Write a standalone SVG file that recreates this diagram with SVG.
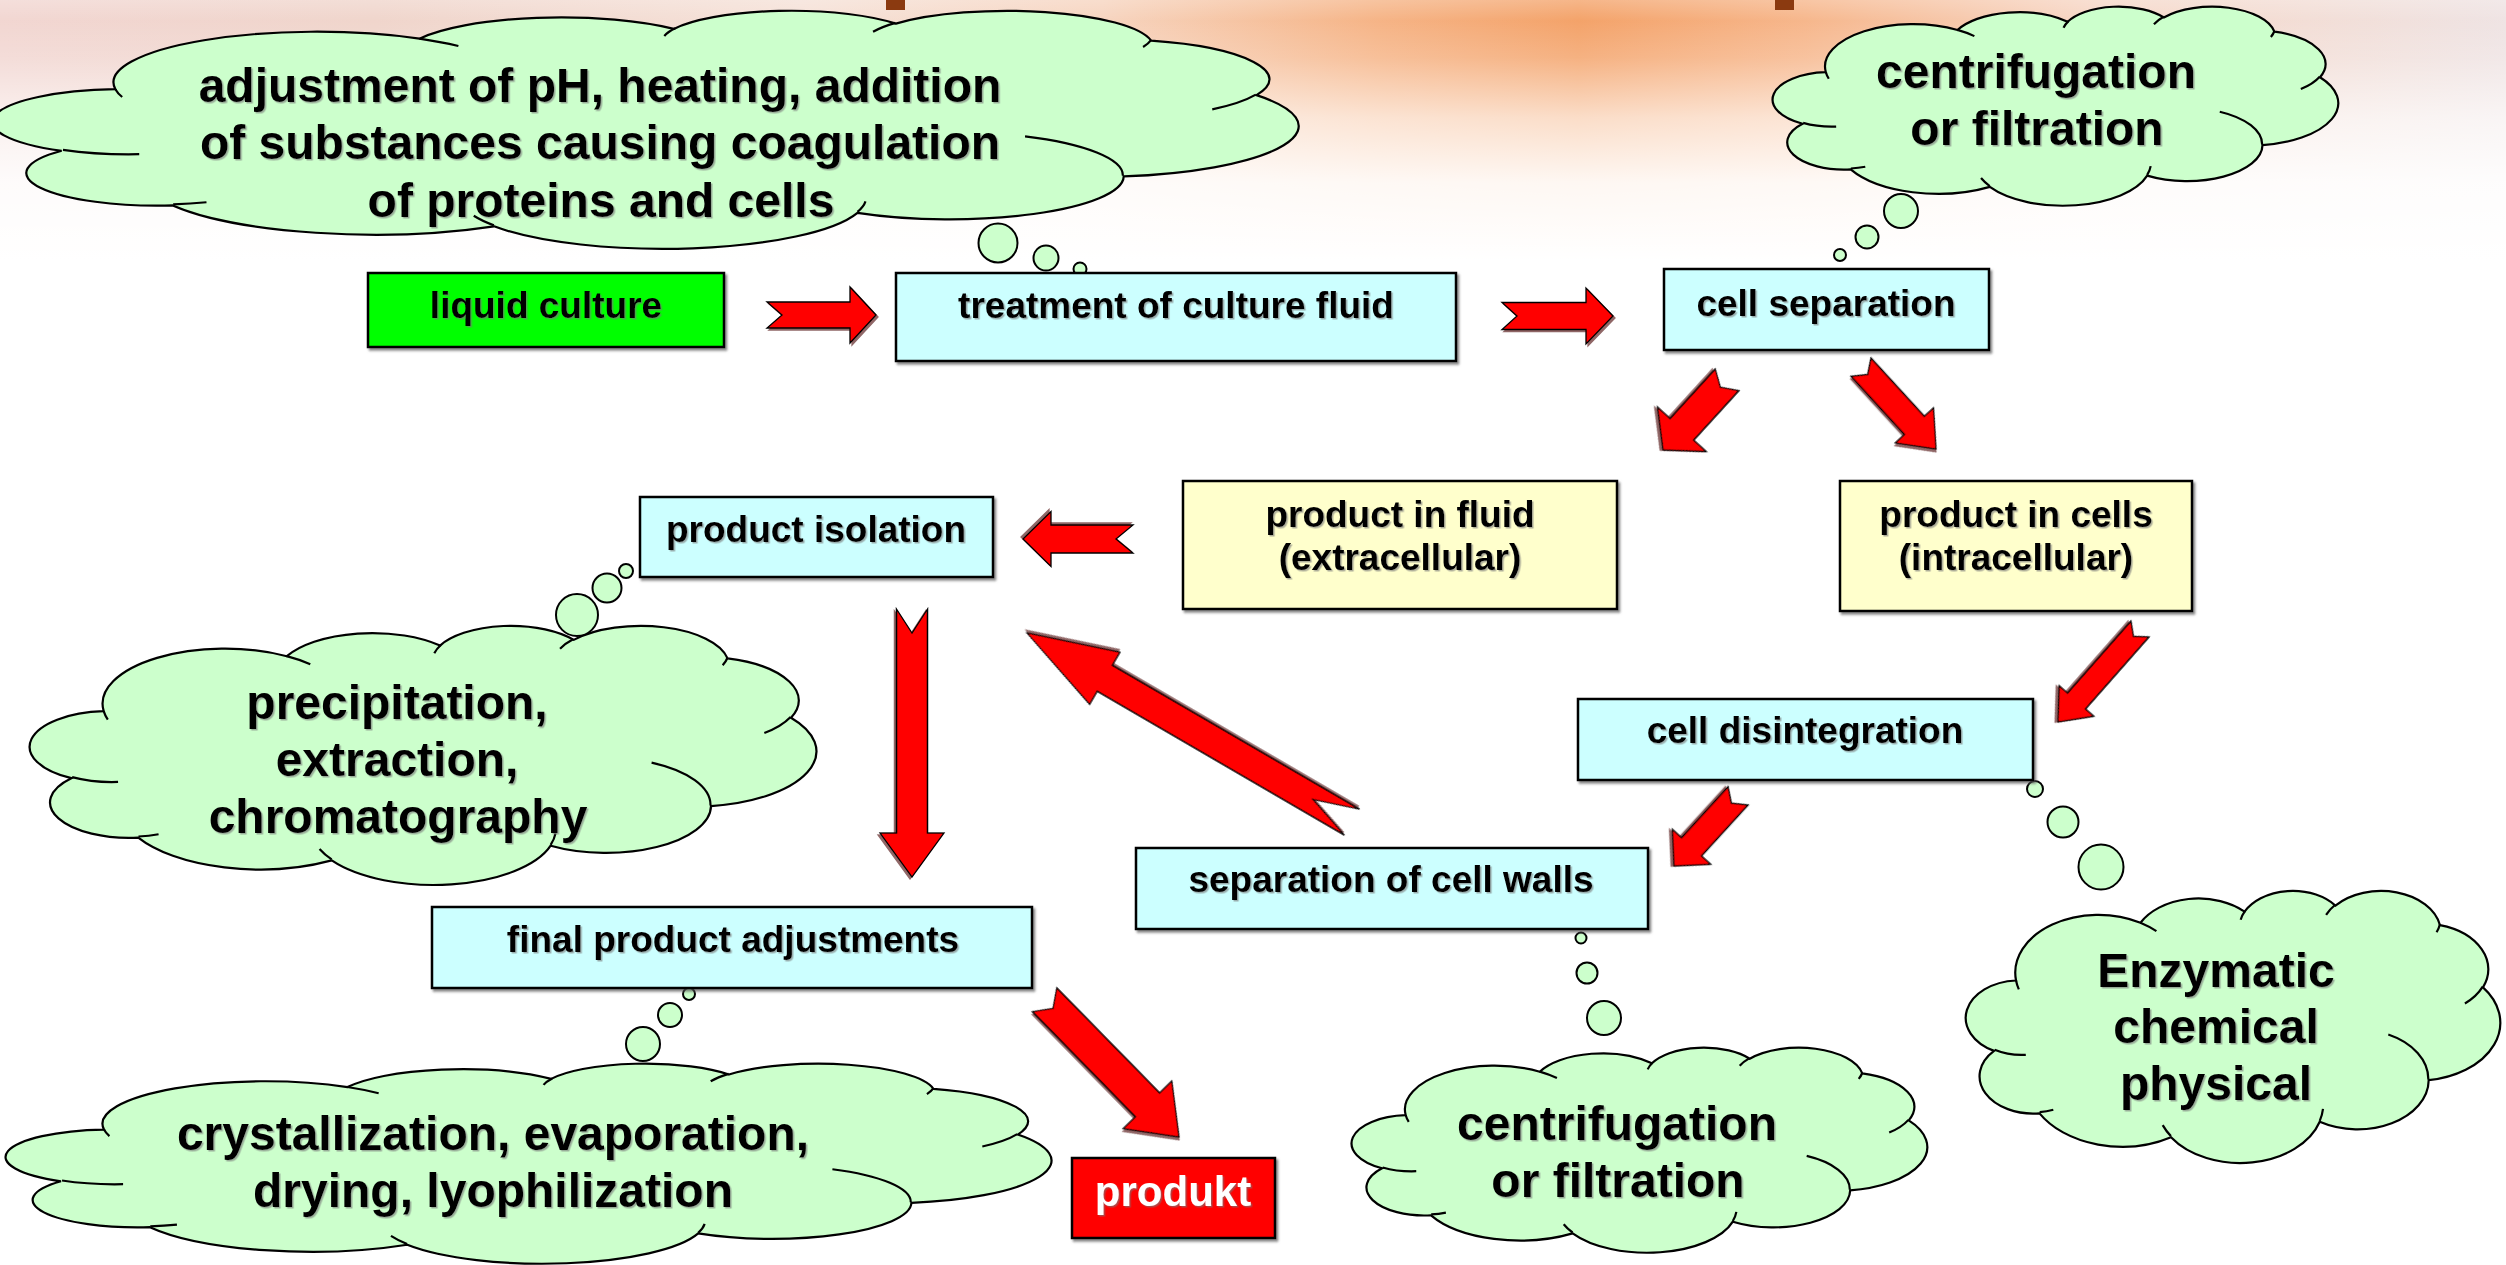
<svg xmlns="http://www.w3.org/2000/svg" xmlns:xlink="http://www.w3.org/1999/xlink" width="2506" height="1265" viewBox="0 0 2506 1265">
<style>
.box{stroke:#000;stroke-width:2.5;filter:url(#sh)}
.cyan{fill:#CCFFFF}
.yel{fill:#FFFFCC}
.cloudshape{fill:#CCFFCC;stroke:#000;stroke-width:2.2}
.inner{fill:none;stroke:#000;stroke-width:2.2}
.bub{fill:#CCFFCC;stroke:#000;stroke-width:2}
.arr{fill:#FF0000;stroke:#000;stroke-width:1.3;stroke-linejoin:miter;filter:url(#ash)}
.t{font-family:"Liberation Sans",Arial,sans-serif;font-weight:bold;text-anchor:middle;fill:#000;filter:url(#tsh)}
.bt{font-size:37px}
.ct{font-size:48px}
</style>
<defs>
<linearGradient id="bgH" x1="0" y1="0" x2="1" y2="0">
<stop offset="0" stop-color="#F1D4CF"/>
<stop offset="0.15" stop-color="#EFD3C9"/>
<stop offset="0.32" stop-color="#F5E0D6"/>
<stop offset="0.44" stop-color="#F6D2BC"/>
<stop offset="0.55" stop-color="#F5B080"/>
<stop offset="0.63" stop-color="#F39E62"/>
<stop offset="0.72" stop-color="#F6B386"/>
<stop offset="0.84" stop-color="#F6D6C6"/>
<stop offset="1" stop-color="#EEE2E2"/>
</linearGradient>
<linearGradient id="bgV" x1="0" y1="0" x2="0" y2="1">
<stop offset="0" stop-color="#FFFFFF" stop-opacity="0.25"/>
<stop offset="0.08" stop-color="#FFFFFF" stop-opacity="0.05"/>
<stop offset="0.22" stop-color="#FFFFFF" stop-opacity="0.2"/>
<stop offset="0.45" stop-color="#FFFFFF" stop-opacity="0.65"/>
<stop offset="0.7" stop-color="#FFFFFF" stop-opacity="0.92"/>
<stop offset="1" stop-color="#FFFFFF" stop-opacity="1"/>
</linearGradient>
<filter id="sh" x="-5%" y="-5%" width="110%" height="120%">
<feDropShadow dx="2" dy="2.5" stdDeviation="0.8" flood-color="#555" flood-opacity="0.7"/>
</filter>
<filter id="ash" x="-10%" y="-10%" width="120%" height="120%">
<feDropShadow dx="2" dy="2" stdDeviation="0.6" flood-color="#400" flood-opacity="0.6"/>
</filter>
<filter id="tsh" x="-5%" y="-20%" width="110%" height="140%">
<feDropShadow dx="1.5" dy="1.5" stdDeviation="0.4" flood-color="#777" flood-opacity="0.6"/>
</filter>
<g id="cloud">
<path vector-effect="non-scaling-stroke" class="cloudshape" d="M3900 14370 A6753 9190 0 0 1 14006 5203 A5333 7267 0 0 1 22458 3431 A4365 5945 0 0 1 29835 2479 A4857 6595 0 0 1 38321 5574 A5333 7273 0 0 1 41821 15458 A6775 9220 0 0 1 37408 30203 A5785 7867 0 0 1 28560 36813 A6752 9215 0 0 1 16485 39266 A7720 10543 0 0 1 5807 35470 A4360 5918 0 0 1 2115 25550 A4345 5945 0 0 1 3900 14370 Z"/>
<path vector-effect="non-scaling-stroke" class="inner" d="M4693 26177 A4345 5945 0 0 1 2159 25379 M6928 34899 A4360 5918 0 0 1 5820 35281 M16478 39090 A6752 9215 0 0 1 15810 37349 M28827 34751 A6752 9215 0 0 1 28561 36659 M34129 22954 A5785 7867 0 0 1 37380 30090 M41798 15354 A5333 7273 0 0 1 40350 18030 M38324 5426 A4857 6595 0 0 1 38051 6715 M29078 3952 A4857 6595 0 0 1 29820 2340 M22141 4720 A4365 5945 0 0 1 22500 3332 M14000 5192 A6753 9190 0 0 1 15299 6540 M4127 15789 A6753 9190 0 0 1 3900 14371"/>
</g>
</defs>

<g id="background">
<rect x="0" y="0" width="2506" height="1265" fill="#FFFFFF"/>
<rect x="0" y="0" width="2506" height="260" fill="url(#bgH)"/>
<rect x="0" y="0" width="2506" height="261" fill="url(#bgV)"/>
<rect x="886" y="0" width="19" height="10" fill="#8B3A10"/>
<rect x="1775" y="0" width="19" height="10" fill="#8B3A10"/>
</g>

<g id="cloud-coagulation">
<use xlink:href="#cloud" href="#cloud" transform="translate(-2,10) scale(0.030093,0.0055093)"/>
<circle class="bub" cx="998" cy="243" r="19.5"/>
<circle class="bub" cx="1046" cy="258" r="12.5"/>
<circle class="bub" cx="1080" cy="269" r="6.5"/>
<text class="t ct" x="600" y="102">adjustment of pH, heating, addition</text>
<text class="t ct" x="600" y="159">of substances causing coagulation</text>
<text class="t ct" x="601" y="217">of proteins and cells</text>
</g>

<g id="cloud-centrifugation-top">
<use xlink:href="#cloud" href="#cloud" transform="translate(1775,6) scale(0.013032,0.0046065)"/>
<circle class="bub" cx="1901" cy="211" r="17"/>
<circle class="bub" cx="1867" cy="237" r="11.5"/>
<circle class="bub" cx="1840" cy="255" r="6"/>
<text class="t ct" x="2036" y="88">centrifugation</text>
<text class="t ct" x="2037" y="145">or filtration</text>
</g>

<g id="cloud-precipitation">
<use xlink:href="#cloud" href="#cloud" transform="translate(33,625) scale(0.018125,0.0059954)"/>
<circle class="bub" cx="626" cy="571" r="7"/>
<circle class="bub" cx="607" cy="588" r="14.5"/>
<circle class="bub" cx="577" cy="615" r="21"/>
<text class="t ct" x="397" y="719">precipitation,</text>
<text class="t ct" x="397" y="776">extraction,</text>
<text class="t ct" x="398" y="833">chromatography</text>
</g>

<g id="cloud-crystallization">
<use xlink:href="#cloud" href="#cloud" transform="translate(10,1063) scale(0.024097,0.0046296)"/>
<circle class="bub" cx="689" cy="994" r="6"/>
<circle class="bub" cx="670" cy="1015" r="12"/>
<circle class="bub" cx="643" cy="1044" r="17"/>
<text class="t ct" x="493" y="1150">crystallization, evaporation,</text>
<text class="t ct" x="493" y="1207">drying, lyophilization</text>
</g>

<g id="cloud-centrifugation-bottom">
<use xlink:href="#cloud" href="#cloud" transform="translate(1354,1047) scale(0.013264,0.0047454)"/>
<circle class="bub" cx="1581" cy="938" r="5.5"/>
<circle class="bub" cx="1587" cy="973" r="10.5"/>
<circle class="bub" cx="1604" cy="1018" r="17"/>
<text class="t ct" x="1617" y="1140">centrifugation</text>
<text class="t ct" x="1618" y="1197">or filtration</text>
</g>

<g id="cloud-enzymatic">
<use xlink:href="#cloud" href="#cloud" transform="translate(1968,890) scale(0.012315,0.0062963)"/>
<circle class="bub" cx="2035" cy="789" r="8"/>
<circle class="bub" cx="2063" cy="822" r="15.5"/>
<circle class="bub" cx="2101" cy="867" r="22.5"/>
<text class="t ct" x="2216" y="987">Enzymatic</text>
<text class="t ct" x="2216" y="1043">chemical</text>
<text class="t ct" x="2216" y="1100">physical</text>
</g>

<g id="connectors">
<polygon class="arr" transform="translate(876,315)" points="0,0 -26,-28 -26,-13 -109,-13 -94,0 -109,13 -26,13 -26,28"/>
<polygon class="arr" transform="translate(1613,316)" points="0,0 -27,-28 -27,-13.5 -111,-13.5 -96,0 -111,13.5 -27,13.5 -27,28"/>
<polygon class="arr" transform="translate(1663,450) rotate(132.4)" points="0,0 -28,-33 -28,-16 -95,-16 -85,0 -95,16 -28,16 -28,33"/>
<polygon class="arr" transform="translate(1936,449) rotate(47.5)" points="0,0 -32,-26 -32,-13.5 -111,-13.5 -101,0 -111,13.5 -32,13.5 -32,26"/>
<polygon class="arr" transform="translate(1023,539) rotate(180)" points="0,0 -28,-27.5 -28,-14 -110,-14 -93,0 -110,14 -28,14 -28,27.5"/>
<polygon class="arr" transform="translate(912,877) rotate(90)" points="0,0 -44,-32 -44,-15.5 -268,-15.5 -244,0 -268,15.5 -44,15.5 -44,32"/>
<polygon class="arr" transform="translate(1027,633) rotate(210.2)" points="0,0 -90,-30 -90,-15 -376,-15 -331,0 -376,15 -90,15 -90,30"/>
<polygon class="arr" transform="translate(2058,722) rotate(131.4)" points="0,0 -28,-23 -28,-12 -124,-12 -114,0 -124,12 -28,12 -28,23"/>
<polygon class="arr" transform="translate(1674,866) rotate(132.4)" points="0,0 -26,-26 -26,-13.5 -95,-13.5 -85,0 -95,13.5 -26,13.5 -26,26"/>
<polygon class="arr" transform="translate(1179,1137) rotate(45.6)" points="0,0 -45,-34 -45,-17 -192,-17 -180,0 -192,17 -45,17 -45,34"/>
</g>

<g id="node-liquid-culture">
<rect class="box" x="368" y="273" width="356" height="74" fill="#00FF00"/>
<text class="t bt" x="546" y="318">liquid culture</text>
</g>
<g id="node-treatment">
<rect class="box cyan" x="896" y="273" width="560" height="88"/>
<text class="t bt" x="1176" y="318">treatment of culture fluid</text>
</g>
<g id="node-cell-separation">
<rect class="box cyan" x="1664" y="269" width="325" height="81"/>
<text class="t bt" x="1826" y="316">cell separation</text>
</g>
<g id="node-product-isolation">
<rect class="box cyan" x="640" y="497" width="353" height="80"/>
<text class="t bt" x="816" y="542">product isolation</text>
</g>
<g id="node-product-fluid">
<rect class="box yel" x="1183" y="481" width="434" height="128"/>
<text class="t bt" x="1400" y="527">product in fluid</text>
<text class="t bt" x="1400" y="570">(extracellular)</text>
</g>
<g id="node-product-cells">
<rect class="box yel" x="1840" y="481" width="352" height="130"/>
<text class="t bt" x="2016" y="527">product in cells</text>
<text class="t bt" x="2016" y="570">(intracellular)</text>
</g>
<g id="node-cell-disintegration">
<rect class="box cyan" x="1578" y="699" width="455" height="81"/>
<text class="t bt" x="1805" y="743">cell disintegration</text>
</g>
<g id="node-separation-walls">
<rect class="box cyan" x="1136" y="848" width="512" height="81"/>
<text class="t bt" x="1391" y="892">separation of cell walls</text>
</g>
<g id="node-final-adjustments">
<rect class="box cyan" x="432" y="907" width="600" height="81"/>
<text class="t bt" x="733" y="952">final product adjustments</text>
</g>
<g id="node-produkt">
<rect class="box" x="1072" y="1158" width="203" height="80" fill="#FF0000"/>
<text class="t" x="1173" y="1206" style="fill:#FFFFFF;font-size:42px">produkt</text>
</g>
</svg>
